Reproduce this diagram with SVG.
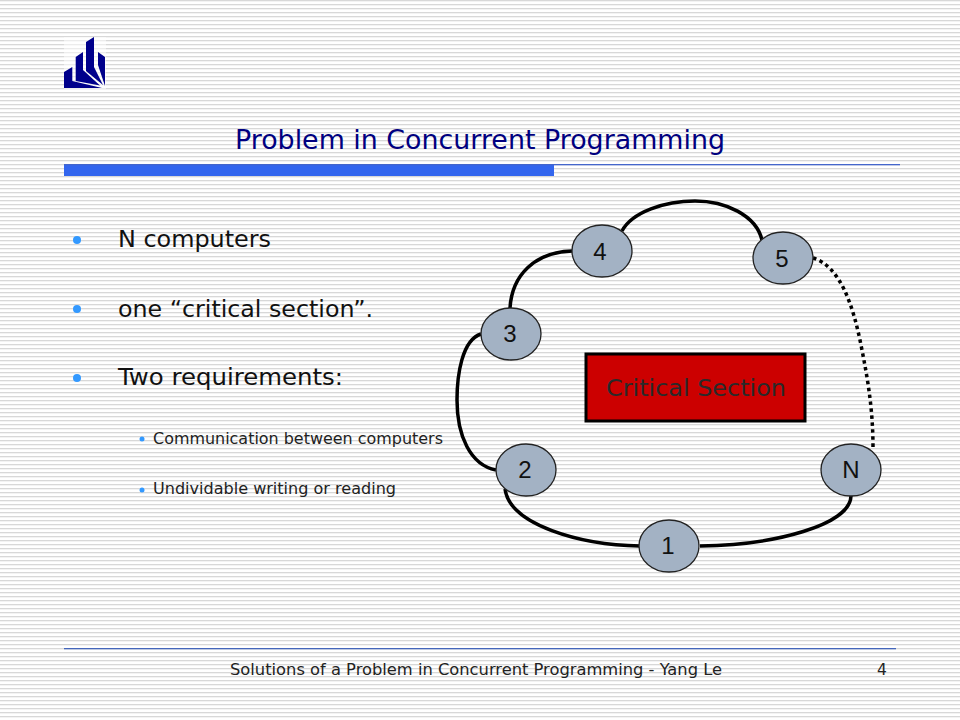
<svg xmlns="http://www.w3.org/2000/svg" width="960" height="720" viewBox="0 0 960 720">
<defs>
<pattern id="bg" width="8" height="4" patternUnits="userSpaceOnUse"><rect width="8" height="4" fill="#fff"/><rect y="0" width="8" height="1.300" fill="#d8d8d8"/></pattern>
</defs>
<style>
.t{font-family:"DejaVu Sans",sans-serif}
.b{font-size:23px;fill:#111}
.s{font-size:15.500px;fill:#222}
.node{fill:#a3b2c4;stroke:#222;stroke-width:1.3}
.nl{font-family:"Liberation Sans",sans-serif;font-size:24px;fill:#111;text-anchor:middle}
.c{fill:none;stroke:#000;stroke-width:3.500}
.bu{fill:#3399ff}
</style>
<rect width="960" height="720" fill="url(#bg)"/>
<g id="logo">
<rect x="64" y="37" width="42" height="52" fill="#fff" opacity=".5"/>
<path d="M64 72L72.300 67V81L102 88H64ZM75.700 57L83 52V70L100 85.500L75.700 81ZM86 42L94 37V67L103 85L86 71ZM98 52L105 57V86L98 65Z" fill="#00008b"/>
</g>
<g id="header">
<text class="t" x="235" y="149" font-size="26" fill="#000080" textLength="490" lengthAdjust="spacingAndGlyphs">Problem in Concurrent Programming</text>
<rect x="64" y="165" width="490" height="11" fill="#3366ee"/>
<rect x="64" y="164" width="836" height="1.300" fill="#4466cc"/>
</g>
<g id="bullets">
<circle class="bu" cx="77" cy="240" r="4"/><text class="t b" x="118" y="247" textLength="153" lengthAdjust="spacingAndGlyphs">N computers</text>
<circle class="bu" cx="77" cy="309" r="4"/><text class="t b" x="118" y="317" textLength="255" lengthAdjust="spacingAndGlyphs">one “critical section”.</text>
<circle class="bu" cx="77" cy="378" r="4"/><text class="t b" x="118" y="385" textLength="225" lengthAdjust="spacingAndGlyphs">Two requirements:</text>
<circle class="bu" cx="142" cy="439" r="2.500"/><text class="t s" x="153" y="444" textLength="290" lengthAdjust="spacingAndGlyphs">Communication between computers</text>
<circle class="bu" cx="142" cy="490" r="2.500"/><text class="t s" x="153" y="494" textLength="243" lengthAdjust="spacingAndGlyphs">Undividable writing or reading</text>
</g>
<g id="connectors">
<path class="c" d="M481 334C462 340 457 375 457 400C457 435 470 465 496 470"/>
<path class="c" d="M510 308C512 275 535 252 572 251"/>
<path class="c" d="M622 231C632 212 665 201 695 201C725 201 756 215 762 240"/>
<path class="c" d="M813 258C840 266 853 305 861 345C868 380 873 410 873 448" stroke-width="4" stroke-dasharray="3.500 3.500"/>
<path class="c" d="M851 496C850 525 775 545 700 546"/>
<path class="c" d="M505 489C510 525 580 545 640 546"/>
</g>
<g id="critical"><rect x="586" y="354" width="219" height="67" fill="#cc0000" stroke="#000" stroke-width="3"/><text class="t" x="606" y="396" font-size="23" fill="#2a2a2a" textLength="180" lengthAdjust="spacingAndGlyphs">Critical Section</text></g>
<g id="n4"><ellipse class="node" cx="602" cy="251" rx="30" ry="26"/><text class="nl" x="600" y="260">4</text></g>
<g id="n5"><ellipse class="node" cx="783" cy="258" rx="30" ry="26"/><text class="nl" x="782" y="267">5</text></g>
<g id="n3"><ellipse class="node" cx="511" cy="334" rx="30" ry="26"/><text class="nl" x="510" y="342">3</text></g>
<g id="n2"><ellipse class="node" cx="526" cy="470" rx="30" ry="26"/><text class="nl" x="525" y="478">2</text></g>
<g id="nN"><ellipse class="node" cx="851" cy="470" rx="30" ry="26"/><text class="nl" x="851" y="478">N</text></g>
<g id="n1"><ellipse class="node" cx="669" cy="546" rx="30" ry="26"/><text class="nl" x="668" y="554">1</text></g>
<g id="footer">
<rect x="64" y="648" width="832" height="1.300" fill="#4466bb"/>
<text class="t" x="230" y="675" font-size="15.500" fill="#222" textLength="492" lengthAdjust="spacingAndGlyphs">Solutions of a Problem in Concurrent Programming - Yang Le</text>
<text class="t" x="882" y="675" font-size="15.500" fill="#222" text-anchor="middle">4</text>
</g>
</svg>
